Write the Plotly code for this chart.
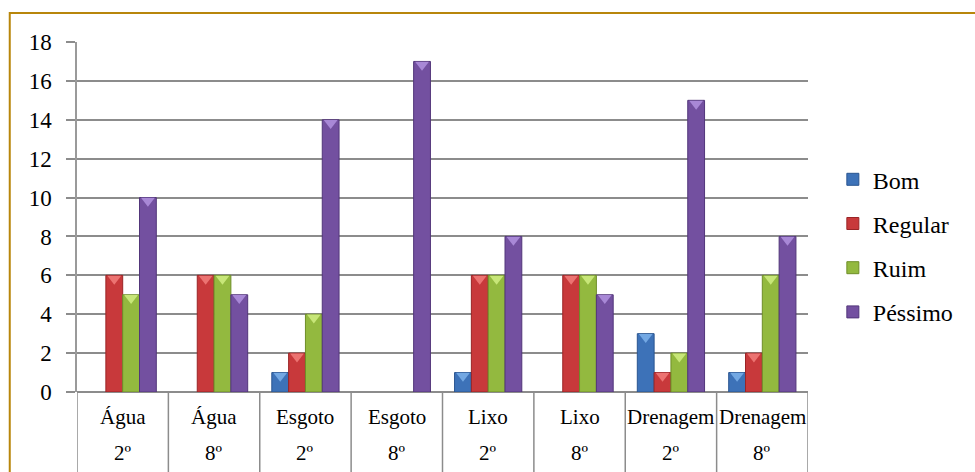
import plotly.graph_objects as go

# Survey ratings of sanitation services by item and school grade
servicos = ["Água", "Água", "Esgoto", "Esgoto", "Lixo", "Lixo", "Drenagem", "Drenagem"]
series = ["2º", "8º", "2º", "8º", "2º", "8º", "2º", "8º"]

bom = [0, 0, 1, 0, 1, 0, 3, 1]
regular = [6, 6, 2, 0, 6, 6, 1, 2]
ruim = [5, 6, 4, 0, 6, 6, 2, 6]
pessimo = [10, 5, 14, 17, 8, 5, 15, 8]

nomes = ["Bom", "Regular", "Ruim", "Péssimo"]
valores = [bom, regular, ruim, pessimo]
cores = ["#3D72B8", "#C8393B", "#93B93F", "#7350A0"]
bordas = ["#2A5590", "#9A2426", "#6E8E28", "#52367A"]
brilhos = ["#79AEE8", "#F07A78", "#CDEB7E", "#AE8EDC"]

FONTE = "Liberation Serif"
n = len(servicos)
largura = 0.184  # width of one bar in category units

fig = go.Figure()

for k, (nome, ys) in enumerate(zip(nomes, valores)):
    # empty categories get no bar at all
    fig.add_trace(go.Bar(
        x=list(range(n)), y=[v if v > 0 else None for v in ys], name=nome,
        width=largura, offset=(k - 2) * largura,
        marker=dict(color=cores[k], line=dict(color=bordas[k], width=1)),
        legendgroup=nome,
    ))

# bevelled caps on top of each non-empty bar
for k, (nome, ys) in enumerate(zip(nomes, valores)):
    xs = [i + (k - 1.5) * largura for i, v in enumerate(ys) if v > 0]
    yv = [v - 0.17 for v in ys if v > 0]
    fig.add_trace(go.Scatter(
        x=xs, y=yv, mode="markers", showlegend=False, hoverinfo="skip",
        marker=dict(symbol="triangle-down", size=12, color=brilhos[k],
                    line=dict(width=0), opacity=0.9),
    ))

# category table below the axis: name on the first row, grade on the second
for i in range(n):
    fig.add_annotation(x=i, y=0, xref="x", yref="paper", yshift=-25,
                       text=servicos[i], showarrow=False, yanchor="middle",
                       font=dict(family=FONTE, size=21, color="#000"))
    fig.add_annotation(x=i, y=0, xref="x", yref="paper", yshift=-61,
                       text=series[i], showarrow=False, yanchor="middle",
                       font=dict(family=FONTE, size=21, color="#000"))

for i in range(n + 1):
    fig.add_shape(type="line", xref="x", yref="paper",
                  x0=i - 0.5, x1=i - 0.5, y0=0, y1=-0.23,
                  line=dict(color="#8c8c8c", width=1.5))

# outer frame
fig.add_shape(type="rect", xref="paper", yref="paper",
              x0=-0.092, x1=1.5, y0=-0.5, y1=1.083,
              line=dict(color="#B8860B", width=2), layer="above")

fig.update_layout(
    width=975, height=472,
    margin=dict(l=77, r=167, t=42, b=80),
    paper_bgcolor="white", plot_bgcolor="white",
    barmode="overlay",
    font=dict(family=FONTE, size=21, color="#000"),
    legend=dict(x=1.034, xanchor="left", xref="paper", y=0.418, yanchor="middle",
                font=dict(family=FONTE, size=24), tracegroupgap=10,
                itemwidth=30, bgcolor="rgba(0,0,0,0)"),
    xaxis=dict(range=[-0.5, n - 0.5], showticklabels=False, showgrid=False,
               zeroline=False, showline=False, ticks=""),
    yaxis=dict(range=[0, 18], dtick=2, tickmode="linear",
               showgrid=True, gridcolor="#8c8c8c", gridwidth=1.5,
               showline=True, linecolor="#9a9a9a", linewidth=1.5,
               ticks="outside", ticklen=9, tickcolor="#8c8c8c", tickwidth=1.5,
               ticklabelstandoff=10, zeroline=True, zerolinecolor="#8c8c8c",
               zerolinewidth=1.5, tickfont=dict(family=FONTE, size=23)),
)

fig.write_html("out.html")
